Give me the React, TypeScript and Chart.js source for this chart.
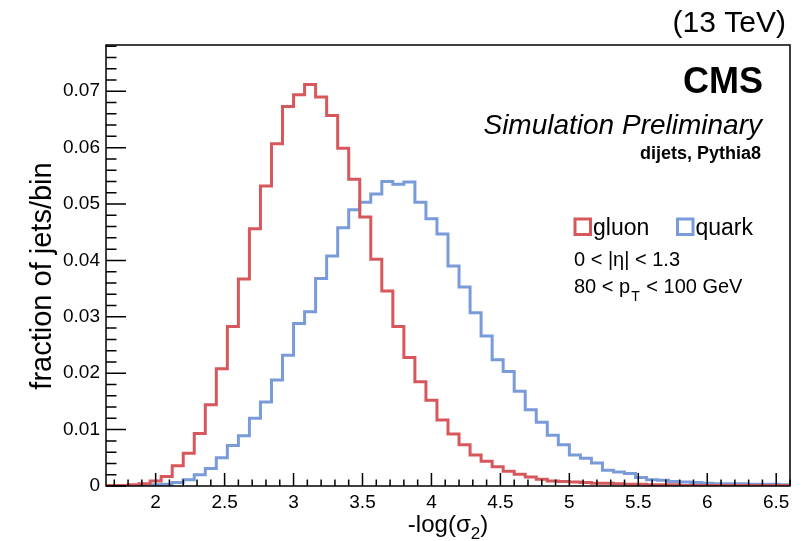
import React, { useEffect, useRef } from "react";
import { Chart, registerables } from "chart.js";

Chart.register(...registerables);

// ---- Data -------------------------------------------------------------
const X_MIN = 1.64;
const X_MAX = 6.6;
const BIN_WIDTH = 0.08;
const Y_MAX = 0.0782;

const gluon = [
  0.0001, 0.0001, 0.0002, 0.0004, 0.0009, 0.0017, 0.0036, 0.0058, 0.0093, 0.0144,
  0.0208, 0.0283, 0.0367, 0.0456, 0.0532, 0.0607, 0.0673, 0.0694, 0.0712, 0.069,
  0.0657, 0.0599, 0.0544, 0.0477, 0.0402, 0.0346, 0.0283, 0.0228, 0.0185, 0.0152,
  0.0117, 0.0092, 0.0073, 0.0055, 0.0044, 0.0034, 0.0026, 0.0021, 0.0016, 0.0012,
  0.0009, 0.0008, 0.0007, 0.0006, 0.0005, 0.0005, 0.0004, 0.0003, 0.0003, 0.0002,
  0.0002, 0.0002, 0.0001, 0.0001, 0.0001, 0.0001, 0.0001, 0.0001, 0.0001, 0.0001,
  0.0001, 0.0001,
];

const quark = [
  0.0, 0.0001, 0.0001, 0.0001, 0.0002, 0.0003, 0.0006, 0.0011, 0.002, 0.0031,
  0.005, 0.0072, 0.0089, 0.012, 0.0149, 0.0188, 0.0232, 0.0288, 0.0309, 0.0368,
  0.0408, 0.0458, 0.049, 0.0503, 0.0518, 0.054, 0.0535, 0.0539, 0.0503, 0.0474,
  0.0447, 0.039, 0.0353, 0.0307, 0.0266, 0.0224, 0.0203, 0.0168, 0.0135, 0.0113,
  0.009, 0.0073, 0.0055, 0.0049, 0.0041, 0.0028, 0.0025, 0.0022, 0.0015, 0.0011,
  0.001, 0.0008, 0.0007, 0.0006, 0.0005, 0.0004, 0.0004, 0.0004, 0.0003, 0.0003,
  0.0003, 0.0002,
];

const xTickValues = [2, 2.5, 3, 3.5, 4, 4.5, 5, 5.5, 6, 6.5];
const yTickValues = [0, 0.01, 0.02, 0.03, 0.04, 0.05, 0.06, 0.07];

const seriesNames = ["gluon", "quark"];
const seriesColors = ["#d7585c", "#7a9bd9"];

// ---- Helpers ----------------------------------------------------------
function toSteps(values: number[]) {
  const pts = values.map((v, i) => ({ x: X_MIN + i * BIN_WIDTH, y: v }));
  pts.push({ x: X_MAX, y: values[values.length - 1] });
  return pts;
}

const FONT = "'Liberation Sans', Arial, Helvetica, sans-serif";

const rootStylePlugin = {
  id: "rootStyle",
  afterDraw(chart: any) {
    const { ctx, chartArea } = chart;
    const xs = chart.scales.x;
    const ys = chart.scales.y;
    const { left, right, top, bottom } = chartArea;
    ctx.save();

    // frame
    ctx.strokeStyle = "#000";
    ctx.lineWidth = 1.5;
    ctx.strokeRect(left, top, right - left, bottom - top);

    // x ticks (inside)
    ctx.beginPath();
    for (let i = 17; i <= 66; i++) {
      const v = i / 10;
      const px = xs.getPixelForValue(v);
      const major = i % 5 === 0;
      ctx.moveTo(px, bottom);
      ctx.lineTo(px, bottom - (major ? 13 : 6.5));
    }
    // y ticks (inside)
    for (let i = 0; i <= 39; i++) {
      const v = i * 0.002;
      if (v > Y_MAX) break;
      const py = ys.getPixelForValue(v);
      const major = i % 5 === 0;
      ctx.moveTo(left, py);
      ctx.lineTo(left + (major ? 20 : 10.5), py);
    }
    ctx.stroke();

    ctx.fillStyle = "#000";
    ctx.textBaseline = "alphabetic";

    // (13 TeV)
    ctx.font = `30px ${FONT}`;
    ctx.textAlign = "right";
    ctx.fillText("(13 TeV)", 786, 32);

    // CMS
    ctx.font = `bold 36px ${FONT}`;
    ctx.fillText("CMS", 763, 93);

    ctx.font = `italic 28px ${FONT}`;
    ctx.fillText("Simulation Preliminary", 762, 134);

    ctx.font = `bold 18px ${FONT}`;
    ctx.fillText("dijets, Pythia8", 761, 159);

    // legend
    ctx.textAlign = "left";
    const legendX = [575, 677.5];
    seriesNames.forEach((name, i) => {
      ctx.strokeStyle = seriesColors[i];
      ctx.lineWidth = 3;
      ctx.strokeRect(legendX[i], 219, 15.5, 15.5);
      ctx.fillStyle = "#000";
      ctx.font = `23px ${FONT}`;
      ctx.fillText(name, legendX[i] + 18, 235);
    });

    ctx.font = `20px ${FONT}`;
    ctx.fillText("0 < |\u03b7| < 1.3", 574, 266);

    // 80 < pT < 100 GeV
    let cx = 574;
    ctx.font = `20px ${FONT}`;
    const a = "80 < p";
    ctx.fillText(a, cx, 293);
    cx += ctx.measureText(a).width;
    ctx.font = `14px ${FONT}`;
    ctx.fillText("T", cx + 1, 301);
    cx += ctx.measureText("T").width + 2;
    ctx.font = `20px ${FONT}`;
    ctx.fillText(" < 100 GeV", cx, 293);

    // x title: -log(σ2)
    ctx.font = `24px ${FONT}`;
    const t1 = "-log(\u03c3";
    const t3 = ")";
    const w1 = ctx.measureText(t1).width;
    const w3 = ctx.measureText(t3).width;
    ctx.font = `17px ${FONT}`;
    const w2 = ctx.measureText("2").width;
    const total = w1 + w2 + w3;
    const tx = (left + right) / 2 - total / 2;
    ctx.font = `24px ${FONT}`;
    ctx.fillText(t1, tx, 532);
    ctx.font = `17px ${FONT}`;
    ctx.fillText("2", tx + w1, 539);
    ctx.font = `24px ${FONT}`;
    ctx.fillText(t3, tx + w1 + w2, 532);

    // y title
    ctx.save();
    ctx.translate(51, 276);
    ctx.rotate(-Math.PI / 2);
    ctx.textAlign = "center";
    ctx.font = `29px ${FONT}`;
    ctx.fillText("fraction of jets/bin", 0, 0);
    ctx.restore();

    ctx.restore();
  },
};

export default function App() {
  const ref = useRef<HTMLCanvasElement | null>(null);

  useEffect(() => {
    document.body.style.margin = "0";
    const canvas = ref.current;
    if (!canvas) return;
    const chart = new Chart(canvas, {
      type: "line",
      data: {
        datasets: [
          {
            label: seriesNames[0],
            data: toSteps(gluon),
            borderColor: seriesColors[0],
            borderWidth: 3,
            stepped: "before",
            pointRadius: 0,
            fill: false,
          },
          {
            label: seriesNames[1],
            data: toSteps(quark),
            borderColor: seriesColors[1],
            borderWidth: 3,
            stepped: "before",
            pointRadius: 0,
            fill: false,
          },
        ],
      },
      options: {
        responsive: false,
        animation: false,
        events: [],
        layout: { padding: { left: 0, top: 45, right: 18, bottom: 0 } },
        plugins: {
          legend: { display: false },
          tooltip: { enabled: false },
        },
        scales: {
          x: {
            type: "linear",
            min: X_MIN,
            max: X_MAX,
            border: { display: false },
            grid: { display: false, drawTicks: false },
            afterBuildTicks: (s: any) => {
              s.ticks = xTickValues.map((v) => ({ value: v }));
            },
            afterFit: (s: any) => {
              s.height = 55;
            },
            ticks: {
              autoSkip: false,
              maxRotation: 0,
              padding: 5,
              color: "#000",
              font: { family: FONT, size: 19 },
              callback: (v: any) => String(Math.round(Number(v) * 10) / 10),
            },
          },
          y: {
            type: "linear",
            min: 0,
            max: Y_MAX,
            border: { display: false },
            grid: { display: false, drawTicks: false },
            afterBuildTicks: (s: any) => {
              s.ticks = yTickValues.map((v) => ({ value: v }));
            },
            afterFit: (s: any) => {
              s.width = 106;
            },
            ticks: {
              autoSkip: false,
              padding: 6,
              color: "#000",
              font: { family: FONT, size: 19 },
              callback: (v: any) => (Number(v) === 0 ? "0" : Number(v).toFixed(2)),
            },
          },
        },
      },
      plugins: [rootStylePlugin],
    });
    return () => chart.destroy();
  }, []);

  return (
    <canvas
      ref={ref}
      width={808}
      height={541}
      style={{ display: "block", width: 808, height: 541 }}
    />
  );
}
